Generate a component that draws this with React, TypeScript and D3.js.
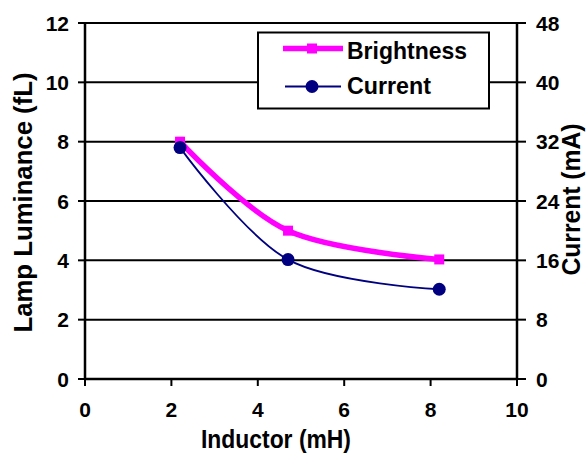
import React from "react";
import * as d3 from "d3";

const inductor = [2.2, 4.7, 8.2];
const brightness = [8.0, 5.0, 4.03];
const current = [31.2, 16.1, 12.1];
const xTicks = [0, 2, 4, 6, 8, 10];
const yLeftTicks = [0, 2, 4, 6, 8, 10, 12];
const yRightTicks = [0, 8, 16, 24, 32, 40, 48];

const W = 587;
const H = 454;
const L = 85, R = 517, T = 23, B = 379;
const FONT = "'Liberation Sans', Arial, sans-serif";

export default function App() {
  const x = d3.scaleLinear().domain([0, 10]).range([L, R]);
  const yL = d3.scaleLinear().domain([0, 12]).range([B, T]);
  const yR = d3.scaleLinear().domain([0, 48]).range([B, T]);

  const lineB = d3
    .line<number>()
    .x((_, i) => x(inductor[i]))
    .y((d) => yL(d))
    .curve(d3.curveCatmullRom.alpha(0));
  const lineC = d3
    .line<number>()
    .x((_, i) => x(inductor[i]))
    .y((d) => yR(d))
    .curve(d3.curveCatmullRom.alpha(0));

  const tickFs = 21;
  return (
    <svg
      width={W}
      height={H}
      style={{ position: "absolute", left: 0, top: 0, background: "#fff" }}
      fontFamily={FONT}
      fontWeight="bold"
    >
      <rect x={0} y={0} width={W} height={H} fill="#fff" />
      {/* gridlines */}
      {yLeftTicks.map((t) => (
        <line key={"g" + t} x1={L} x2={R} y1={yL(t)} y2={yL(t)} stroke="#000" strokeWidth={2} />
      ))}
      {/* left axis */}
      <line x1={L} x2={L} y1={T - 1} y2={B + 1} stroke="#000" strokeWidth={2.5} />
      {yLeftTicks.map((t) => (
        <g key={"yl" + t}>
          <line x1={L - 7} x2={L} y1={yL(t)} y2={yL(t)} stroke="#000" strokeWidth={2} />
          <text x={69} y={yL(t)} dy="0.36em" textAnchor="end" fontSize={tickFs}>
            {t}
          </text>
        </g>
      ))}
      {/* right axis */}
      <line x1={R} x2={R} y1={T - 1} y2={B + 1} stroke="#000" strokeWidth={2.5} />
      {yRightTicks.map((t) => (
        <g key={"yr" + t}>
          <line x1={R} x2={R + 9} y1={yR(t)} y2={yR(t)} stroke="#000" strokeWidth={2} />
          <text x={536} y={yR(t)} dy="0.36em" textAnchor="start" fontSize={tickFs}>
            {t}
          </text>
        </g>
      ))}
      {/* bottom axis */}
      <line x1={L - 1} x2={R + 1} y1={B} y2={B} stroke="#000" strokeWidth={2.5} />
      {xTicks.map((t) => (
        <g key={"x" + t}>
          <line x1={x(t)} x2={x(t)} y1={B} y2={B + 7} stroke="#000" strokeWidth={2} />
          <text x={x(t)} y={417} textAnchor="middle" fontSize={tickFs}>
            {t}
          </text>
        </g>
      ))}
      {/* axis titles */}
      <text x={276} y={448} textAnchor="middle" fontSize={25} textLength={150} lengthAdjust="spacingAndGlyphs">
        Inductor (mH)
      </text>
      <text
        transform={`translate(31.5, ${(72 + 333) / 2}) rotate(-90)`}
        textAnchor="middle"
        fontSize={26}
        textLength={260}
        lengthAdjust="spacingAndGlyphs"
      >
        Lamp Luminance (fL)
      </text>
      <text
        transform={`translate(580, ${(123 + 276) / 2}) rotate(-90)`}
        textAnchor="middle"
        fontSize={25}
        textLength={152}
        lengthAdjust="spacingAndGlyphs"
      >
        Current (mA)
      </text>
      {/* series */}
      <path d={lineB(brightness) || ""} fill="none" stroke="#FF00FF" strokeWidth={5.5} />
      {brightness.map((v, i) => (
        <rect key={"bm" + i} x={x(inductor[i]) - 5} y={yL(v) - 5} width={10} height={10} fill="#FF00FF" />
      ))}
      <path d={lineC(current) || ""} fill="none" stroke="#000080" strokeWidth={1.8} />
      {current.map((v, i) => (
        <circle key={"cm" + i} cx={x(inductor[i])} cy={yR(v)} r={6.5} fill="#000080" />
      ))}
      {/* legend */}
      <rect x={258} y={32.5} width={231} height={76} fill="#fff" stroke="#000" strokeWidth={2} />
      <line x1={283} x2={343} y1={48.5} y2={48.5} stroke="#FF00FF" strokeWidth={5.5} />
      <rect x={307} y={43.5} width={10} height={10} fill="#FF00FF" />
      <text x={347} y={59} fontSize={24} textLength={120} lengthAdjust="spacingAndGlyphs">
        Brightness
      </text>
      <line x1={285} x2={341} y1={86.5} y2={86.5} stroke="#000080" strokeWidth={1.8} />
      <circle cx={312} cy={86.5} r={6.5} fill="#000080" />
      <text x={347} y={93.5} fontSize={24} textLength={84} lengthAdjust="spacingAndGlyphs">
        Current
      </text>
    </svg>
  );
}
